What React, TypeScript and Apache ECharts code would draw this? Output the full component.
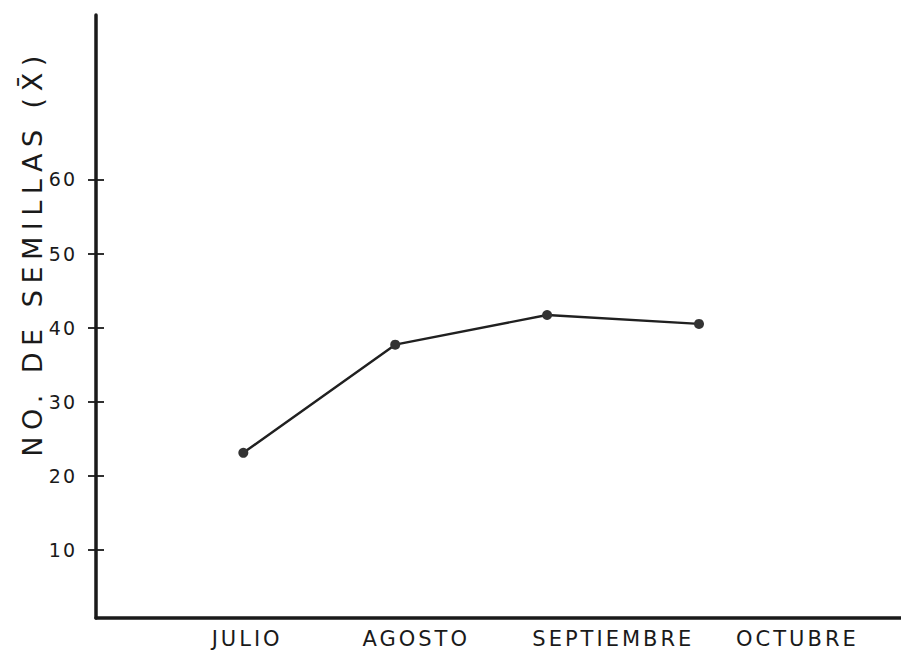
import React, { useEffect, useRef } from "react";
import * as echarts from "echarts";

// Data
const months = ["JULIO", "AGOSTO", "SEPTIEMBRE", "OCTUBRE"];
const monthIndex = [1, 2, 3, 4];
const semillas = [23.1, 37.7, 41.7, 40.5];
const yTickValues = [10, 20, 30, 40, 50, 60];
const yTitle = "NO. DE SEMILLAS (X\u0304)";

export default function App() {
  const ref = useRef<HTMLDivElement>(null);

  useEffect(() => {
    document.body.style.margin = "0";
    if (!ref.current) return;
    const chart = echarts.init(ref.current, undefined, { renderer: "svg" });

    // where the hand-lettered month names sit along the month scale
    const labelAt = [1.025, 2.138, 3.436, 4.648];
    const ink = "#1a1a1a";
    const font = "DejaVu Sans";

    chart.setOption({
      animation: false,
      backgroundColor: "#ffffff",
      grid: {
        left: 96,
        right: 0,
        top: 15,
        bottom: 38,
        containLabel: false,
        outerBoundsMode: "none",
      },
      xAxis: {
        type: "value",
        min: 0.03,
        max: 5.33,
        splitLine: { show: false },
        axisTick: { show: false },
        axisLine: { show: true, lineStyle: { color: ink, width: 3.5 } },
        axisLabel: {
          customValues: labelAt,
          margin: 10,
          color: ink,
          fontFamily: font,
          fontSize: 21,
          formatter: (v: number) => {
            let best = 0;
            labelAt.forEach((p, i) => {
              if (Math.abs(p - v) < Math.abs(labelAt[best] - v)) best = i;
            });
            return months[best];
          },
        },
      },
      yAxis: [
        {
          type: "value",
          min: 0.8,
          max: 82.2,
          position: "left",
          splitLine: { show: false },
          axisLine: { show: true, lineStyle: { color: ink, width: 3.5 } },
          axisTick: {
            show: true,
            customValues: yTickValues,
            length: 8,
            lineStyle: { color: ink, width: 1.8 },
          },
          axisLabel: {
            customValues: yTickValues,
            margin: 19,
            color: ink,
            fontFamily: font,
            fontSize: 19,
          },
        },
        {
          type: "value",
          min: 0.8,
          max: 82.2,
          position: "left",
          splitLine: { show: false },
          axisLine: { show: false },
          axisLabel: { show: false },
          axisTick: {
            show: true,
            inside: true,
            customValues: yTickValues,
            length: 8,
            lineStyle: { color: ink, width: 1.8 },
          },
        },
      ],
      graphic: [
        {
          type: "text",
          x: 32,
          y: 253,
          rotation: Math.PI / 2,
          style: {
            text: yTitle,
            fontFamily: font,
            fontSize: 27,
            fill: ink,
            align: "center",
            verticalAlign: "middle",
          },
        },
      ],
      series: [
        {
          type: "line",
          xAxisIndex: 0,
          yAxisIndex: 0,
          data: monthIndex.map((m, i) => [m, semillas[i]]),
          symbol: "circle",
          symbolSize: 10,
          lineStyle: { color: "#202020", width: 2.4 },
          itemStyle: { color: "#333333" },
          silent: true,
        },
      ],
    });

    return () => chart.dispose();
  }, []);

  return (
    <>
      <style>{`
        .chart text[style*="27px"] { letter-spacing: 6.5px; }
        .chart text[style*="21px"] { letter-spacing: 3px; }
        .chart text[style*="19px"] { letter-spacing: 2px; }
      `}</style>
      <div className="chart" ref={ref} style={{ width: 901, height: 656 }} />
    </>
  );
}
